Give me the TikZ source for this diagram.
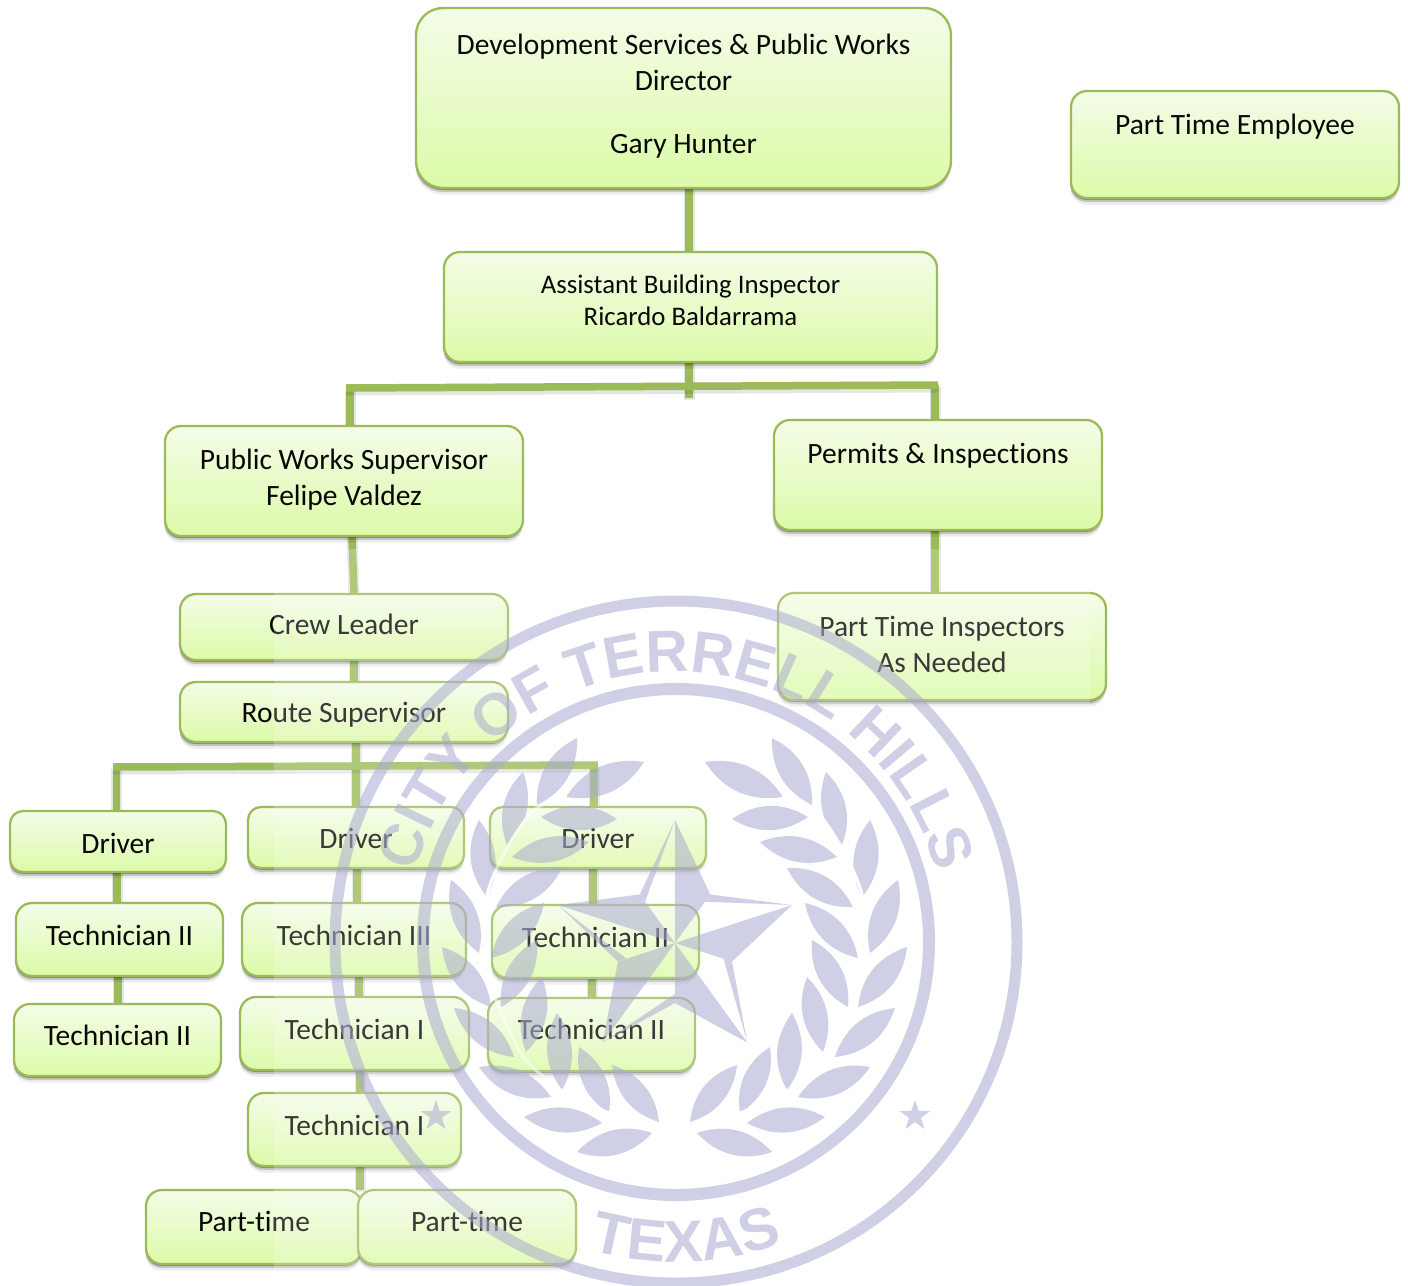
\documentclass[tikz,border=0pt]{standalone}
\usepackage{fontspec}
\setmainfont{Carlito}[RawFeature={-liga;-clig;-dlig;-calt}]
\newfontfamily\wmfont{Liberation Sans}[Ligatures=NoCommon]
\usetikzlibrary{shadows,decorations.text}
\definecolor{gline}{HTML}{9BBB59}
\definecolor{gtop}{HTML}{F4FCE8}
\definecolor{gbot}{HTML}{DCFBA8}
\definecolor{wm}{HTML}{A9ABD0}
\definecolor{ink}{HTML}{080808}
\pgfdeclarelayer{bg}
\pgfdeclarelayer{fg}
\pgfsetlayers{bg,main,fg}
\tikzset{
  orgbox/.style={rectangle, draw=gline, line width=2.3pt, top color=gtop, bottom color=gbot,
    rounded corners=16pt, inner sep=0pt, outer sep=0pt, align=center, text=ink,
    font=\fontsize{29.5}{36}\selectfont,
    drop shadow={shadow xshift=-.5pt,shadow yshift=-2pt,opacity=.30,fill=black},
    drop shadow={shadow xshift=-.5pt,shadow yshift=-4pt,opacity=.16,fill=black},
    drop shadow={shadow xshift=-.5pt,shadow yshift=-6.5pt,opacity=.07,fill=black}},
  conn/.style={draw=gline, line width=7.5pt,
    preaction={draw=black, opacity=.10, line width=11pt, transform canvas={yshift=-2pt}}},
  wmtext/.style={decorate, decoration={text along path, text align=center,
    text={|\wmfont\bfseries\fontsize{59}{59}\selectfont\color{wm}|#1}}}
}
% name, x1,y1,x2,y2, baseline of the last line, text, extra style
\newcommand{\orgnode}[8][]{%
  \pgfmathsetmacro{\cxx}{(#3+#5)/2}%
  \pgfmathsetmacro{\cyy}{(#4+#6)/2}%
  \pgfmathsetmacro{\wdd}{#5-#3}%
  \pgfmathsetmacro{\htt}{#6-#4}%
  \pgfmathsetmacro{\tht}{max(0,2*(#7-\cyy))}%
  \pgfmathsetmacro{\tdp}{max(0,2*(\cyy-#7))}%
  \node[orgbox,minimum width=\wdd pt,minimum height=\htt pt,
    text height=\tht pt,text depth=\tdp pt,#1] (#2) at (\cxx,\cyy) {#8};%
}
\newcommand{\laurel}{%
  \foreach \a/\b/\c/\d in {705/762/783/797, 772/738/812/805, 732/819/808/817, 826/772/842/845,
      760/842/837/857, 870/820/862/897, 787/868/853/907, 898/880/870/953, 805/903/858/958,
      907/947/858/1007, 812/940/848/1007, 895/1008/835/1057, 807/977/823/1052, 870/1067/798/1097,
      792/1013/787/1090, 825/1117/747/1123, 770/1047/740/1113, 772/1152/697/1133, 737/1065/690/1122}{
    \fill[wm] (\a,\b) to[bend left=33] (\c,\d) to[bend left=33] (\a,\b);
  }
  \draw[white,line width=3pt] plot[smooth] coordinates {(650,1157) (665,1138) (700,1127) (740,1113)
     (785,1092) (825,1058) (848,1012) (858,985) (865,950) (862,895) (843,850) (815,810) (782,797)};
}
\begin{document}
\begin{tikzpicture}[x=1pt,y=-1pt]
\useasboundingbox (0,0) rectangle (1408,1285);
\begin{pgfonlayer}{bg}
\fill[white] (0,0) rectangle (1408,1285);
\end{pgfonlayer}

\orgnode[rounded corners=27pt]{dir}{416}{8}{951}{188}{153}{Development Services \& Public Works\\Director\\[27pt]Gary Hunter}
\orgnode{pte}{1071}{91}{1399}{198}{134}{Part Time Employee}
\orgnode[font=\fontsize{26.8}{32}\selectfont]{asst}{444}{252}{937}{362}{325}{Assistant Building Inspector\\Ricardo Baldarrama}
\orgnode{pws}{165}{426}{523}{536}{505}{Public Works Supervisor\\Felipe Valdez}
\orgnode{perm}{774}{420}{1102}{530}{463}{Permits \& Inspections}
\orgnode{crew}{180}{594}{508}{660}{634}{Crew Leader}
\orgnode{route}{180}{682}{508}{742}{722}{Route Supervisor}
\orgnode{pti}{778}{593}{1106}{700}{672}{Part Time Inspectors\\As Needed}
\orgnode[rounded corners=13pt]{da}{10}{811}{226}{872}{853}{Driver}
\orgnode[rounded corners=13pt]{db}{248}{807}{464}{868}{848}{Driver}
\orgnode[rounded corners=13pt]{dc}{490}{807}{706}{868}{848}{Driver}
\orgnode{ta}{16}{903}{223}{976}{945}{Technician II}
\orgnode{tb}{242}{903}{466}{976}{945}{Technician III}
\orgnode{tc}{492}{905}{699}{978}{947}{Technician II}
\orgnode{te}{14}{1004}{221}{1076}{1045}{Technician II}
\orgnode{tf}{240}{997}{469}{1070}{1039}{Technician I}
\orgnode{tg}{488}{998}{695}{1071}{1039}{Technician II}
\orgnode{th}{248}{1093}{461}{1166}{1135}{Technician I}
\orgnode{pa}{146}{1190}{362}{1264}{1231}{Part-time}
\orgnode{pb}{358}{1190}{576}{1264}{1231}{Part-time}

\coordinate (busAL) at (346,388);
\coordinate (busAR) at (938,385);
\coordinate (busAJ) at (689,398);
\coordinate (busBL) at (113,767);
\coordinate (busBR) at (598,765);

\begin{pgfonlayer}{bg}
\draw[conn] ([xshift=5.5pt]dir.south) -- ([xshift=-1.5pt]asst.north);
\draw[conn] ([xshift=-1.5pt]asst.south) -- (busAJ);
\draw[conn] ([xshift=4pt]busAL) -- ([xshift=6pt]pws.north);
\draw[conn] ([xshift=-3pt]busAR) -- ([xshift=-3pt]perm.north);
\draw[conn] (busAL) -- (busAR);
\draw[conn] ([xshift=8pt]pws.south) -- ([xshift=10pt]crew.north);
\draw[conn] ([xshift=-3pt]perm.south) -- ([xshift=-7pt]pti.north);
\draw[conn] ([xshift=10pt]crew.south) -- ([xshift=10pt]route.north);
\draw[conn] ([xshift=12pt]route.south) -- (db.north);
\draw[conn] ([xshift=3.5pt]busBL) -- ([xshift=-1.5pt]da.north);
\draw[conn] ([xshift=-4pt]busBR) -- ([xshift=-4pt]dc.north);
\draw[conn] (busBL) -- (busBR);
\draw[conn] ([xshift=-1pt]da.south) -- ([xshift=-2.5pt]ta.north);
\draw[conn] ([xshift=-1.5pt]ta.south) -- ([xshift=.5pt]te.north);
\draw[conn] ([xshift=1pt]db.south) -- ([xshift=3pt]tb.north);
\draw[conn] ([xshift=5pt]tb.south) -- ([xshift=4.5pt]tf.north);
\draw[conn] ([xshift=5.5pt]tf.south) -- ([xshift=5.5pt]th.north);
\draw[conn] ([xshift=5.5pt]th.south) -- ([xshift=2pt]pb.north west);
\draw[conn] ([xshift=-5pt]dc.south) -- ([xshift=-2.5pt]tc.north);
\draw[conn] ([xshift=-3.5pt]tc.south) -- ([xshift=.5pt]tg.north);
\end{pgfonlayer}

\begin{pgfonlayer}{fg}
% the faint seal lying over the chart
\fill[white,opacity=.2] (274,549) rectangle (1090,1285);
\begin{scope}[transparency group,opacity=.55]
\coordinate (sealc) at (676,942);
\draw[wm,line width=11pt] (sealc) circle[radius=341];
\draw[wm,line width=12pt] (sealc) circle[radius=253];
\path[wmtext={CITY OF TERRELL HILLS}] ([shift={(194:270)}]sealc) arc[start angle=194,end angle=346,radius=270];
\path[wmtext={TEXAS}] ([shift={(112:320)}]sealc) arc[start angle=112,end angle=64,radius=320];
% star of the seal
\coordinate (starc) at (675,943);
\foreach \a in {270,342,54,126,198}{
  \fill[wm] (starc) -- ([shift={(\a:123)}]starc) -- ([shift={(\a+36:60)}]starc) -- cycle;
  \fill[wm] ([shift={(\a:123)}]starc) -- ([shift={(\a-36:60)}]starc) -- ([shift={(\a-36:51)}]starc) -- cycle;
}
% small stars
\foreach \sx in {915,436}{
  \fill[wm] ({\sx},{1116-16}) \foreach \k in {1,...,9}{
     -- ({\sx+(mod(\k,2)==1?6.2:16)*cos(270+36*\k)},{1116+(mod(\k,2)==1?6.2:16)*sin(270+36*\k)})} -- cycle;
}
% laurel branches
\laurel
\begin{scope}[xshift=1349pt,xscale=-1]
\laurel
\end{scope}
\end{scope}
\end{pgfonlayer}
\end{tikzpicture}
\end{document}
